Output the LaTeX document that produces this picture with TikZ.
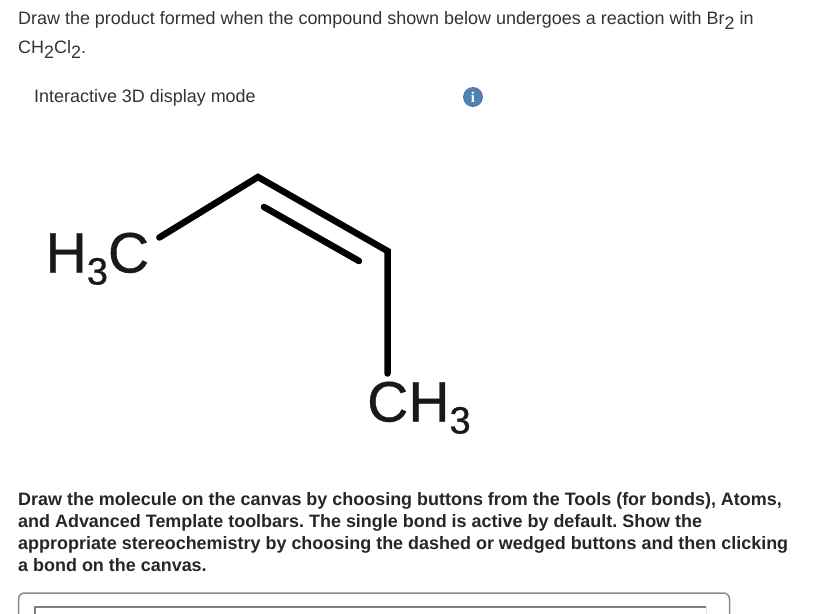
\documentclass[tikz,border=0pt]{standalone}
\usepackage{fontspec}
\setmainfont{Liberation Sans}
\newfontfamily\serifi{Liberation Serif}
\newcommand{\dnsub}[1]{\raisebox{-5bp}{#1}}
\newcommand{\molsub}[1]{\raisebox{-12bp}{\fontsize{38bp}{38bp}\selectfont #1}}
\tikzset{
  x=1bp,y=-1bp,
  plain/.style={anchor=base west,inner sep=0pt,text=black!80,font=\fontsize{17.95bp}{20bp}\selectfont\frenchspacing},
  boldtext/.style={anchor=base west,inner sep=0pt,text=black!85,font=\fontsize{17.95bp}{20bp}\selectfont\bfseries\frenchspacing},
  atom/.style={anchor=base west,inner sep=0pt,text=black!90,font=\fontsize{57bp}{60bp}\selectfont\addfontfeature{FakeBold=0.6}},
  bond/.style={line width=6.5bp,line cap=round,line join=miter,black},
}
\begin{document}
\begin{tikzpicture}
\useasboundingbox (0,0) rectangle (820,614);
\fill[white] (0,0) rectangle (820,614);
\node[plain] (q1) at (18,24.8) {Draw the product formed when the compound shown below undergoes a reaction with Br\dnsub{2} in};
\node[plain] (q2) at (18,53.8) {CH\dnsub{2}Cl\dnsub{2}.};
\node[plain] (mode) at (34,102.8) {Interactive 3D display mode};
\node[circle,draw=blue!45!black!60,line width=0.8bp,fill=blue!45!cyan!40!gray,minimum size=19bp,inner sep=0pt,text=white,font=\fontsize{15bp}{15bp}\selectfont\serifi\bfseries] (info) at (473,97) {i};
\node[atom] (h3c) at (45.5,272.5) {H\molsub{3}C};
\node[atom] (ch3) at (367,421.5) {CH\molsub{3}};
\coordinate (c1) at (258,177);
\coordinate (c2) at (387.5,251);
\coordinate (d1) at (264,207);
\coordinate (d2) at (359,261);
\draw[bond] ([shift={(10,5)}]h3c.north east) -- (c1) -- (c2) -- ([yshift=8bp]c2 |- ch3.north);
\draw[bond] (d1) -- (d2);
\node[boldtext] (b1) at (18,505.8) {Draw the molecule on the canvas by choosing buttons from the Tools (for bonds), Atoms,};
\node[boldtext] (b2) at (18,527.8) {and Advanced Template toolbars. The single bond is active by default. Show the};
\node[boldtext] (b3) at (18,549.8) {appropriate stereochemistry by choosing the dashed or wedged buttons and then clicking};
\node[boldtext] (b4) at (18,571.8) {a bond on the canvas.};
\draw[black!45,line width=1.5bp,rounded corners=6bp] (18.5,616) -- (18.5,593) -- (729.5,593) -- (729.5,616);
\draw[black!50,line width=1.3bp] (35,616) -- (35,607) -- (706,607);
\draw[black!12,line width=1bp] (706,607) -- (706,616);
\end{tikzpicture}
\end{document}
